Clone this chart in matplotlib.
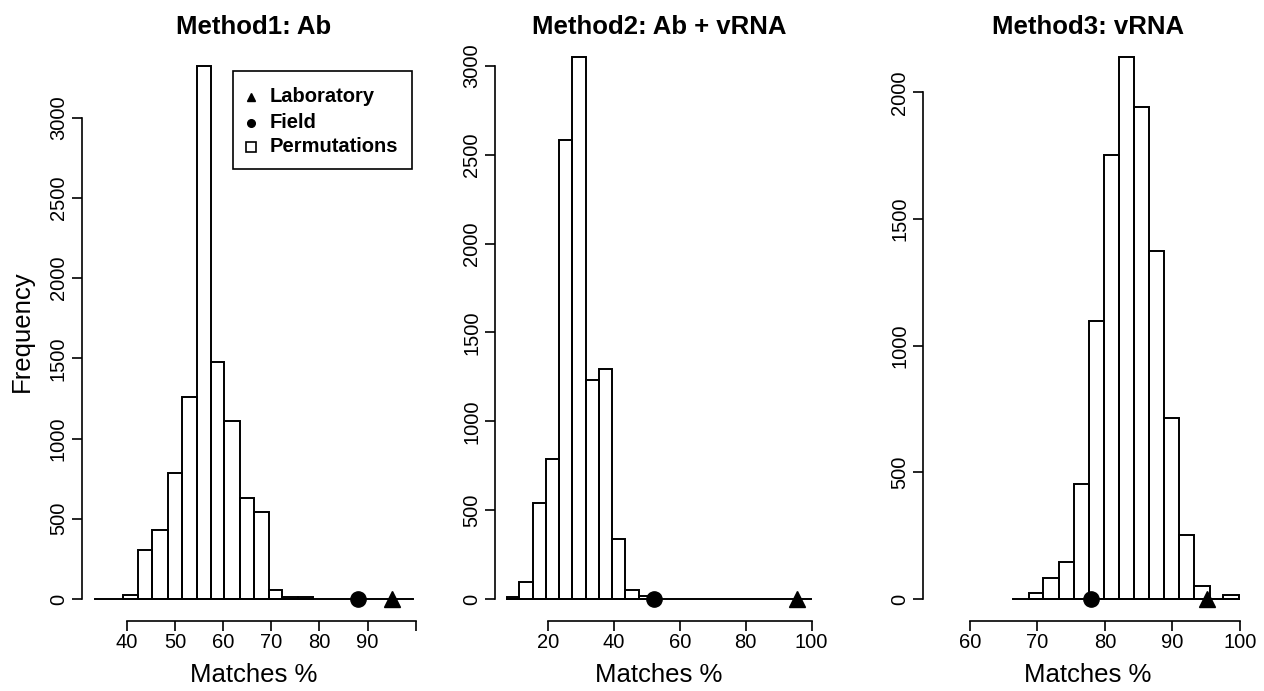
import numpy as np
import matplotlib.pyplot as plt
from matplotlib.patches import Rectangle

plt.rcParams['font.family'] = ['Liberation Sans', 'DejaVu Sans']

# Method1: Ab
edges1 = [39.3, 42.4, 45.3, 48.5, 51.4, 54.5, 57.4, 60.2, 63.5, 66.4, 69.5, 72.3, 75.5, 78.6]
counts1 = [28, 305, 430, 786, 1259, 3325, 1478, 1112, 630, 545, 55, 12, 12]
lab1, field1 = 95.1, 88.0
span1 = (33.4, 99.4)

# Method2: Ab + vRNA
edges2 = [7.3, 11.2, 15.2, 19.4, 23.2, 27.3, 31.4, 35.5, 39.4, 43.4, 47.6, 51.6]
counts2 = [10, 97, 540, 788, 2583, 3050, 1232, 1294, 338, 51, 15]
lab2, field2 = 95.5, 52.2
span2 = (7.3, 99.7)

# Method3: vRNA
edges3 = [68.7, 70.9, 73.2, 75.5, 77.7, 79.9, 82.1, 84.3, 86.6, 88.8, 91.0, 93.2, 95.6, 97.5, 99.9]
counts3 = [22, 82, 145, 454, 1097, 1753, 2140, 1942, 1374, 715, 253, 51, 0, 16]
lab3, field3 = 95.1, 77.9
span3 = (66.4, 99.9)

titles = ['Method1: Ab', 'Method2: Ab + vRNA', 'Method3: vRNA']
xticks = [[40, 50, 60, 70, 80, 90, 100], [20, 40, 60, 80, 100], [60, 70, 80, 90, 100]]
xticklabels = [['40', '50', '60', '70', '80', '90', ''],
               ['20', '40', '60', '80', '100'],
               ['60', '70', '80', '90', '100']]
yticks = [np.arange(0, 3001, 500), np.arange(0, 3001, 500), np.arange(0, 2001, 500)]
legend_labels = ['Laboratory', 'Field', 'Permutations']

W, H = 1264, 691
fig = plt.figure(figsize=(W / 100, H / 100), dpi=100)

# panel geometry in pixels: left, right, top, bottom; data limits
boxes = [(81.7, 425.7), (495.0, 822.7), (923.3, 1252.0)]
top, bottom = 40, 621
xlims = [(30.66, 102.04), (3.8, 103.4), (53.1, 101.8)]
ylims = [(-137.2, 3485), (-123.8, 3146), (-86.9, 2207)]

data = [(edges1, counts1, lab1, field1, span1),
        (edges2, counts2, lab2, field2, span2),
        (edges3, counts3, lab3, field3, span3)]

for i, (edges, counts, lab, field, span) in enumerate(data):
    l, r = boxes[i]
    ax = fig.add_axes([l / W, (H - bottom) / H, (r - l) / W, (bottom - top) / H])
    e = np.array(edges)
    ax.bar(e[:-1], counts, width=np.diff(e), align='edge', fill=False,
           edgecolor='black', linewidth=1.4)
    ax.plot(span, [0, 0], color='black', linewidth=1.4)
    ax.plot([field], [0], marker='o', color='black', markersize=11, clip_on=False)
    ax.plot([lab], [0], marker='^', color='black', markersize=11, clip_on=False)
    ax.set_xlim(*xlims[i])
    ax.set_ylim(*ylims[i])
    for s in ['top', 'right']:
        ax.spines[s].set_visible(False)
    ax.spines['left'].set_bounds(0, yticks[i][-1])
    ax.spines['bottom'].set_bounds(xticks[i][0], xticks[i][-1])
    ax.spines['left'].set_linewidth(1.2)
    ax.spines['bottom'].set_linewidth(1.2)
    ax.set_xticks(xticks[i])
    ax.set_xticklabels(xticklabels[i])
    ax.set_yticks(yticks[i])
    ax.set_yticklabels([str(v) for v in yticks[i]], rotation=90, va='center')
    ax.tick_params(length=7, width=1.2, labelsize=14.5, color='black')
    ax.tick_params(axis='x', pad=2)
    ax.tick_params(axis='y', pad=3)
    fig.text((l + r) / 2 / W, 1 - 27 / H, titles[i], ha='center', va='center',
             fontsize=18.5, fontweight='bold')
    fig.text((l + r) / 2 / W, 1 - 675 / H, 'Matches %', ha='center', va='center',
             fontsize=18.5)

fig.text(22 / W, 1 - 331 / H, 'Frequency', rotation=90, ha='center', va='center',
         fontsize=18.5)

# legend box drawn by hand, like R's legend()
def fx(px):
    return px / W

def fy(py):
    return 1 - py / H

fig.patches.append(Rectangle((fx(232.7), fy(169)), (411.7 - 232.7) / W, (169 - 71) / H,
                             transform=fig.transFigure, fill=False,
                             edgecolor='black', linewidth=1.2))
rows = [97, 123, 147]
markers = [dict(marker='^', color='black', markersize=5.5),
           dict(marker='o', color='black', markersize=5.5),
           dict(marker='s', markerfacecolor='white', markeredgecolor='black',
                markersize=7, markeredgewidth=1.2)]
for py, lbl, mk in zip(rows, legend_labels, markers):
    fig.add_artist(plt.Line2D([fx(251)], [fy(py)], transform=fig.transFigure,
                              linestyle='None', **mk))
    fig.text(fx(270), fy(py), lbl, ha='left', va='center', fontsize=14.5,
             fontweight='bold')

fig.savefig('out.png', dpi=100)
